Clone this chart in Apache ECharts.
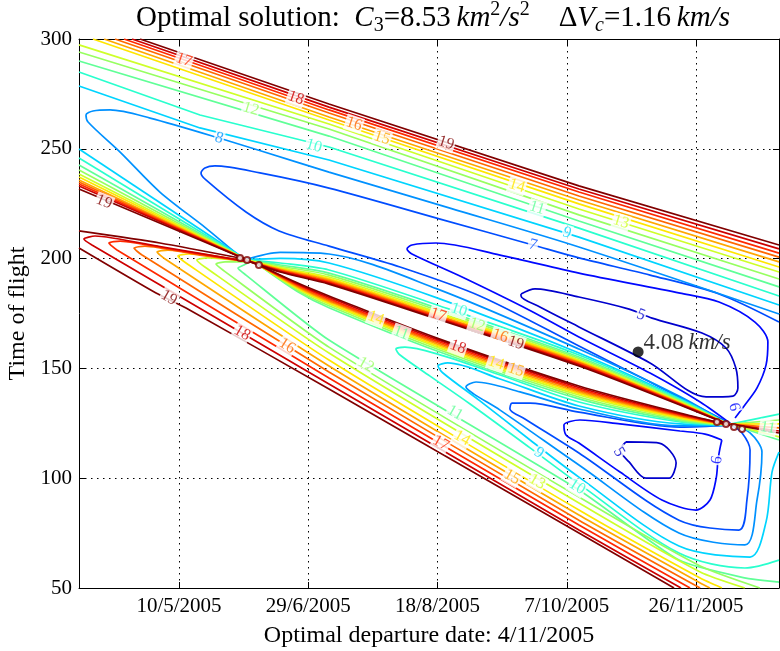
<!DOCTYPE html>
<html>
<head>
<meta charset="utf-8">
<script src="https://cdn.jsdelivr.net/npm/echarts@6/dist/echarts.min.js"></script>
<style>
html, body { margin: 0; padding: 0; background: #fff; }
#chart { width: 780px; height: 651px; }
</style>
</head>
<body>
<div id="chart"></div>
<script>
// x = day of year 2005 (0 = 1/1/2005), y = time of flight (days)
const xTicks = [129, 179, 229, 279, 329];
const xRange = [90.3, 361.1];
const yRange = [50, 300];

// open contour lines across the upper right
const upperBand = [
  [19, [[113.9,300],[187.0,270.4],[283.7,233.1],[361.1,206.2]]],
  [18, [[110.8,300],[187.0,269.0],[283.7,231.7],[361.1,204.4]]],
  [17, [[107.7,300],[187.0,267.7],[283.7,230.3],[361.1,202.5]]],
  [16, [[104.2,300],[187.0,266.3],[283.7,228.5],[361.1,200.7]]],
  [15, [[100.0,300],[187.0,264.5],[283.7,226.7],[361.1,198.5]]],
  [14, [[95.7,300],[187.0,263.1],[283.7,224.9],[361.1,196.2]]],
  [13, [[90.3,297.3],[187.0,261.3],[283.7,222.6],[361.1,193.9]]],
  [12, [[90.3,294.1],[187.0,259.0],[283.7,219.9],[361.1,190.7]]],
  [11, [[90.3,290.0],[187.0,255.8],[283.7,217.1],[361.1,187.1]]],
  [10, [[90.3,285.0],[137.1,265.4],[187.0,250.8],[283.7,213.9],[361.1,183.0]]],
  [9,  [[90.3,278.6],[137.1,259.5],[187.0,244.9],[283.7,209.8],[361.1,178.9]]]
];

// loops above the singular ridge
const upperLoops = [
  [8, [[361.1,174.8],[283.7,205.3],[233.8,223.0],[187.0,239.4],[175.8,243.5],[144.5,254.9],[117.8,264.0],[102.3,267.7],[95.7,267.2],[93.0,265.4],[93.8,262.2],[106.2,248.5],[121.6,230.3],[139.4,213.9],[148.7,204.8],[154.5,199.4]]],
  [7, [[361.1,171.1],[337.9,183.9],[311.2,192.5],[283.7,200.3],[265.9,206.2],[230.0,218.0],[187.0,232.1],[160.3,239.0],[142.9,242.2],[139.0,241.3],[137.5,239.0],[139.4,235.8],[154.9,221.2],[167.7,212.6],[187.0,205.7],[214.5,196.2],[245.4,183.0],[283.7,160.2],[311.2,143.8],[330.6,132.0],[342.5,124.7]]],
  [6, [[344.1,127.4],[347.9,133.3],[352.6,141.1],[356.1,151.6],[356.8,162.0],[351.8,171.1],[337.9,180.2],[322.8,184.3],[283.7,193.4],[253.2,201.6],[228.4,207.1],[219.1,206.2],[217.2,204.4],[219.1,202.1],[238.5,191.6],[264.4,176.6],[283.7,164.3],[311.2,147.9],[330.6,134.7],[342.5,124.7]]],
  [5, [[261.3,183.9],[266.7,186.2],[283.7,182.5],[303.1,177.0],[312.0,172.9],[331.3,166.1],[340.6,159.3],[344.4,150.2],[345.2,141.1],[343.3,137.4],[332.9,137.0],[311.2,152.5],[283.7,168.9],[268.6,178.0],[261.3,183.0],[261.3,183.9]]]
];

// lines from the left edge into the left singular point
const leftBandStart = [[9,249.9],[10,245.8],[11,242.6],[12,240.3],[13,238.5],[14,237.2],[15,235.8],[16,234.9],[17,234.0],[18,233.1],[19,231.7]];
const leftBandEnd = [154.5, 199.8];

// lines piled on the upper side of the ridge
const upperStackX = [154.5, 168.1, 187.0, 228.8, 283.7, 322.8, 342.1];
const upperStackT = [
  [8,  [199.4,202.8,202.1,186.2,158.8,137.2,124.2]],
  [9,  [199.4,200.1,198.0,182.1,157.0,136.3,124.2]],
  [10, [199.4,198.0,194.8,178.9,156.1,135.9,124.2]],
  [11, [199.4,197.1,193.4,177.5,155.2,135.4,124.2]],
  [12, [199.4,196.5,192.5,176.6,154.5,135.1,124.2]],
  [13, [199.4,195.9,191.6,175.7,153.8,134.7,124.2]],
  [14, [199.4,195.5,190.9,175.0,153.4,134.5,124.2]],
  [15, [199.4,195.1,190.3,174.3,152.9,134.2,124.2]],
  [16, [199.4,194.8,189.8,173.9,152.5,134.0,124.2]],
  [17, [199.4,194.5,189.3,173.4,152.0,133.8,124.2]],
  [18, [199.4,194.2,188.9,172.9,151.6,133.6,124.2]],
  [19, [199.4,193.9,188.4,172.5,151.1,133.3,124.2]]
];

// lines piled on the lower side of the ridge
const lowerStackX = [159.9, 175.8, 187.0, 228.8, 283.7, 322.8, 342.1];
const lowerStackT = [
  [11, [197.1,184.3,177.6,157.9,136.1,126.1,124.2]],
  [12, [197.1,184.9,178.5,158.8,137.0,126.7,124.2]],
  [13, [197.1,185.6,179.3,159.7,137.9,127.2,124.2]],
  [14, [197.1,186.0,179.9,160.4,138.6,127.6,124.2]],
  [15, [197.1,186.5,180.5,161.1,139.3,128.1,124.2]],
  [16, [197.1,187.0,181.1,161.8,140.0,128.5,124.2]],
  [17, [197.1,187.5,181.7,162.5,140.6,128.9,124.2]],
  [18, [197.1,188.0,182.4,163.2,141.3,129.3,124.2]],
  [19, [197.1,188.4,183.0,163.8,142.0,129.7,124.2]]
];

// lower left family running to the bottom edge
const lowerFan = [
  [19, [[90.3,212.6],[121.6,207.1],[154.5,199.8]]],
  [19, [[90.3,204.8],[120.1,184.3],[131.7,177.5],[187.0,140.6],[283.7,75.0],[320.5,50.0]]],
  [18, [[156.4,198.5],[121.6,205.5],[96.5,210.3],[92.2,208.9],[95.3,206.2],[187.0,142.9],[283.7,76.4],[323.2,50.0]]],
  [17, [[156.4,198.5],[129.4,203.5],[106.2,208.0],[101.9,207.1],[105.0,203.9],[187.0,145.6],[283.7,78.7],[326.7,50.0]]],
  [16, [[156.4,198.5],[137.1,201.6],[115.8,205.7],[111.6,204.8],[114.7,201.6],[187.0,148.4],[283.7,80.9],[330.6,50.0]]],
  [15, [[156.4,198.5],[124.7,203.9],[120.5,203.0],[123.6,199.8],[187.0,151.1],[283.7,83.2],[330.6,52.3],[334.4,50.0]]],
  [14, [[156.4,198.5],[132.5,202.1],[128.6,201.2],[131.7,198.0],[187.0,153.8],[283.7,85.5],[330.6,54.5],[339.0,50.0]]],
  [13, [[156.4,198.5],[139.8,200.3],[135.9,199.4],[139.0,196.2],[187.0,157.0],[283.7,88.7],[330.6,57.3],[347.9,50.0]]],
  [12, [[156.4,198.5],[146.8,198.5],[143.3,197.5],[146.4,194.4],[187.0,159.7],[283.7,91.4],[330.6,60.0],[353.7,50.0]]],
  [11, [[156.4,198.5],[154.1,197.1],[151.8,195.7],[154.9,192.5],[187.0,162.9],[283.7,94.6],[322.4,62.7],[348.3,54.5],[361.1,52.7]]]
];

// loops below the ridge, around the second minimum
const lowerLoops = [
  [10, [[342.1,124.2],[322.8,125.6],[283.7,134.7],[253.2,147.0],[228.8,156.6],[216.4,159.7],[212.9,158.8],[214.5,156.1],[226.1,146.5],[241.6,133.8],[264.8,113.8],[283.7,97.4],[322.4,65.9],[347.9,59.1],[361.1,62.7]]],
  [9,  [[342.1,124.2],[322.8,124.7],[283.7,132.9],[253.2,145.2],[233.0,152.5],[229.2,151.1],[231.1,147.9],[245.4,135.2],[264.8,117.4],[283.7,100.5],[322.4,69.1],[349.9,64.1],[356.1,80.1],[358.4,102.8],[361.1,111.9]]],
  [8,  [[342.1,124.2],[322.8,123.8],[283.7,131.5],[260.9,139.3],[243.9,143.8],[240.0,141.5],[243.1,138.3],[253.2,131.0],[283.7,106.0],[322.4,75.0],[347.9,69.6],[352.6,90.1],[354.5,111.9],[349.9,120.6],[342.9,124.2]]],
  [7,  [[342.1,124.2],[322.8,123.3],[283.7,130.1],[264.8,134.2],[257.8,134.2],[257.0,131.5],[262.8,127.0],[283.7,111.5],[322.4,80.9],[345.6,76.4],[348.7,90.1],[349.9,112.8],[346.8,120.6],[342.5,124.2]]],
  [6,  [[339.0,117.4],[332.5,120.1],[322.8,121.5],[299.6,124.7],[284.1,126.5],[277.9,124.2],[278.7,119.7],[283.7,116.0],[299.6,102.8],[315.8,90.1],[329.0,85.5],[334.4,90.1],[336.8,100.0],[337.5,108.3],[338.3,113.8],[339.0,117.4]]],
  [5,  [[301.9,116.5],[314.7,116.0],[321.3,106.9],[318.6,100.0],[309.6,100.0],[303.1,107.4],[299.6,112.8],[301.9,116.5]]]
];

// short lines leaving the right singular point
const rightFanStart = [342.3, 124.6];
const rightFanEnd = [[10,129.2],[12,126.5],[14,124.7],[16,122.9],[18,121.5],[19,120.6],[13,118.8],[11,117.4]];

// contour labels: level, day, tof, rotation
const labels = [
  [17,130.9,290.4,-19],[18,174.2,273.1,-19],[12,156.8,268.1,-17],[10,181.2,251.3,-16],
  [8,144.5,254.9,-17],[16,196.7,261.3,-18],[15,207.5,254.9,-18],[19,232.3,252.6,-18],
  [14,259.7,233.1,-17],[11,267.5,223.0,-17],[9,279.1,211.7,-17],[7,265.9,206.2,-15],
  [13,300.0,216.7,-17],[19,100.0,225.8,-22],[19,125.1,182.1,-30],[18,153.4,166.1,-30],
  [16,170.8,160.2,-32],[12,201.3,151.6,-30],[11,235.8,129.7,-30],[17,230.3,116.0,-30],
  [14,238.5,118.3,-30],[15,257.8,100.5,-30],[13,267.5,98.3,-30],[10,283.0,96.0,-32],
  [9,268.2,111.5,-35],[17,229.2,174.3,-18],[10,237.3,176.6,-18],[12,244.3,169.8,-18],
  [16,253.2,164.8,-18],[19,259.3,161.6,-18],[18,236.9,159.7,-20],[14,251.6,152.5,-18],
  [15,259.3,149.3,-18],[14,205.2,172.9,-20],[11,214.9,166.1,-20],[5,307.7,174.3,-20],
  [6,343.7,132.4,-75],[6,337.1,108.3,80],[5,299.2,111.9,-60],[11,356.8,122.9,-10]
];

const singularMarks = [[152.6,200.3],[155.3,199.4],[159.9,197.1],[337.1,125.6],[340.6,124.7],[343.7,123.3],[346.8,122.4]];
const optimum = [306.6, 157.5];
const optimumText = '4.08';

const FONT = "'Liberation Serif', 'DejaVu Serif', serif";

// matplotlib jet colormap, levels 4..19
const R = [[0,0],[0.35,0],[0.66,1],[0.89,1],[1,0.5]];
const G = [[0,0],[0.125,0],[0.375,1],[0.64,1],[0.91,0],[1,0]];
const B = [[0,0.5],[0.11,1],[0.34,1],[0.65,0],[1,0]];
function interp(p, v) {
  for (let i = 1; i < p.length; i++) {
    if (v <= p[i][0]) {
      return p[i-1][1] + (p[i][1] - p[i-1][1]) * (v - p[i-1][0]) / (p[i][0] - p[i-1][0]);
    }
  }
  return p[p.length-1][1];
}
function jet(level) {
  const v = (level - 4) / 15;
  return 'rgb(' + [R, G, B].map(p => Math.round(255 * interp(p, v))).join(',') + ')';
}

function fmtDate(v) {
  const d = new Date(Date.UTC(2005, 0, 1) + Math.round(v) * 86400000);
  return d.getUTCDate() + '/' + (d.getUTCMonth() + 1) + '/' + d.getUTCFullYear();
}

// collect all contour pieces, then draw low levels first
let pieces = [];
upperBand.forEach(([l, p]) => pieces.push([l, p, 0]));
upperLoops.forEach(([l, p]) => pieces.push([l, p, 0.3]));
leftBandStart.forEach(([l, t]) => pieces.push([l, [[xRange[0], t], leftBandEnd], 0]));
upperStackT.forEach(([l, ts]) => pieces.push([l, ts.map((t, i) => [upperStackX[i], t]), 0.3]));
lowerStackT.forEach(([l, ts]) => pieces.push([l, ts.map((t, i) => [lowerStackX[i], t]), 0.3]));
lowerFan.forEach(([l, p]) => pieces.push([l, p, 0.2]));
lowerLoops.forEach(([l, p]) => pieces.push([l, p, 0.3]));
rightFanEnd.forEach(([l, t]) => pieces.push([l, [rightFanStart, [xRange[1], t]], 0]));
pieces.sort((a, b) => a[0] - b[0]);

const series = pieces.map(([l, p, s]) => ({
  type: 'line',
  data: p,
  symbol: 'none',
  smooth: s,
  lineStyle: { color: jet(l), width: 1.7 },
  silent: true,
  z: 2
}));

series.push({
  type: 'scatter',
  data: singularMarks,
  symbol: 'circle',
  symbolSize: 6,
  itemStyle: { color: '#fff', borderColor: '#800000', borderWidth: 2 },
  silent: true,
  z: 4
});

series.push({
  type: 'scatter',
  data: labels.map(([l, d, t, r]) => ({
    name: String(l),
    value: [d, t],
    label: { rotate: r, color: jet(l) }
  })),
  symbol: 'circle',
  symbolSize: 1,
  itemStyle: { color: 'rgba(0,0,0,0)' },
  label: {
    show: true,
    position: 'inside',
    formatter: '{b}',
    fontFamily: FONT,
    fontSize: 16,
    backgroundColor: '#fff',
    padding: [0, 1]
  },
  silent: true,
  z: 5
});

series.push({
  type: 'scatter',
  data: [optimum],
  symbol: 'circle',
  symbolSize: 11,
  itemStyle: { color: '#000' },
  label: {
    show: true,
    position: 'right',
    distance: 0,
    offset: [0, -9],
    formatter: '{r|' + optimumText + '\u2009}{i|km/s}',
    rich: {
      r: { fontFamily: FONT, fontSize: 23, color: '#000' },
      i: { fontFamily: FONT, fontSize: 23, fontStyle: 'italic', color: '#000' }
    }
  },
  silent: true,
  z: 6
});

const gridLine = { show: true, lineStyle: { type: [1.5, 4.5], color: '#000', width: 1 } };
const tickText = { fontFamily: FONT, fontSize: 21, color: '#000' };
const nameText = { fontFamily: FONT, fontSize: 24, color: '#000' };
const blackLine = { show: true, onZero: false, lineStyle: { color: '#000', width: 1 } };

const chart = echarts.init(document.getElementById('chart'));
chart.setOption({
  animation: false,
  backgroundColor: '#fff',
  grid: { left: 79, right: 1, top: 39, bottom: 63, containLabel: false, outerBoundsMode: 'none' },
  xAxis: [{
    type: 'value', min: xRange[0], max: xRange[1], position: 'bottom',
    axisLine: blackLine,
    axisTick: { show: true, inside: true, length: 6, customValues: xTicks, lineStyle: { color: '#000' } },
    axisLabel: Object.assign({ customValues: xTicks, formatter: fmtDate, margin: 8 }, tickText),
    splitLine: gridLine,
    name: 'Optimal departure date: 4/11/2005',
    nameLocation: 'middle', nameGap: 36,
    nameTextStyle: nameText
  }, {
    type: 'value', min: xRange[0], max: xRange[1], position: 'top',
    axisLine: blackLine,
    axisTick: { show: true, inside: true, length: 6, customValues: xTicks, lineStyle: { color: '#000' } },
    axisLabel: { show: false },
    splitLine: { show: false }
  }],
  yAxis: [{
    type: 'value', min: yRange[0], max: yRange[1], interval: 50, position: 'left',
    axisLine: blackLine,
    axisTick: { show: true, inside: true, length: 6, lineStyle: { color: '#000' } },
    axisLabel: Object.assign({ margin: 7 }, tickText),
    splitLine: gridLine,
    name: 'Time of flight',
    nameLocation: 'middle', nameGap: 44, nameRotate: 90,
    nameTextStyle: nameText
  }, {
    type: 'value', min: yRange[0], max: yRange[1], interval: 50, position: 'right',
    axisLine: blackLine,
    axisTick: { show: true, inside: true, length: 6, lineStyle: { color: '#000' } },
    axisLabel: { show: false },
    splitLine: { show: false }
  }],
  graphic: [{
    type: 'text',
    x: 433, y: 0,
    style: {
      text: '{r|Optimal solution:  }{i|C}{sb|3}{r|=8.53\u2009}{i|km}{sp|2}{i|/s}{sp|2}{r|    \u0394}{i|V}{sbi|c}{r|=1.16\u2009}{i|km/s}',
      align: 'center',
      verticalAlign: 'top',
      rich: {
        r: { fontFamily: FONT, fontSize: 29, lineHeight: 36, fill: '#000' },
        i: { fontFamily: FONT, fontSize: 29, fontStyle: 'italic', lineHeight: 36, fill: '#000' },
        sb: { fontFamily: FONT, fontSize: 20, lineHeight: 36, verticalAlign: 'bottom', fill: '#000' },
        sbi: { fontFamily: FONT, fontSize: 20, fontStyle: 'italic', lineHeight: 36, verticalAlign: 'bottom', fill: '#000' },
        sp: { fontFamily: FONT, fontSize: 20, lineHeight: 36, verticalAlign: 'top', fill: '#000' }
      }
    }
  }],
  series: series
});
</script>
</body>
</html>
